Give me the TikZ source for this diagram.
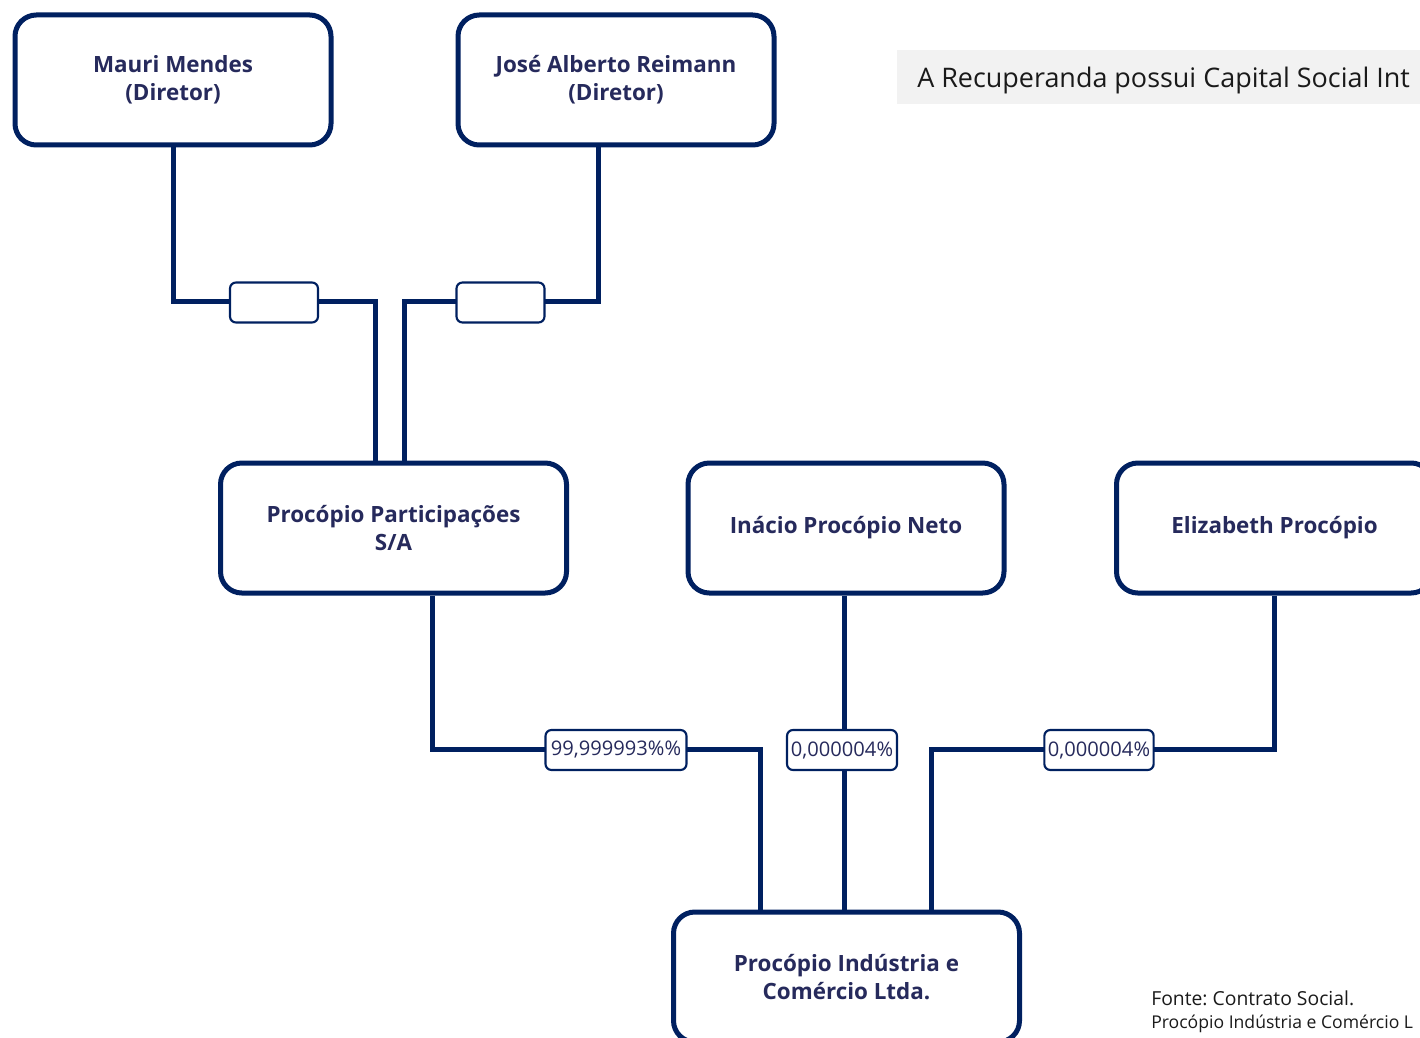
\documentclass[tikz,border=0pt]{standalone}
\usepackage{fontspec}
\setmainfont{Open Sans}
\usetikzlibrary{calc}
\frenchspacing
\definecolor{navy}{HTML}{002060}
\definecolor{txt}{HTML}{262A5C}
\definecolor{hdrbg}{HTML}{F2F2F2}
\definecolor{ink}{HTML}{1A1A1A}
\tikzset{
  ent/.style={draw=navy, line width=3.75pt, rounded corners=16pt, fill=white,
    text=txt, font=\bfseries\fontsize{16.8}{21}\selectfont, align=center,
    inner sep=0pt, minimum width=237pt, minimum height=97.5pt},
  entwide/.style={ent, minimum width=259.5pt},
  conn/.style={draw=navy, line width=3.75pt, line join=miter},
  pct/.style={draw=navy, line width=1.6pt, rounded corners=4.5pt, fill=white,
    text=txt, font=\fontsize{15.1}{17}\selectfont, inner sep=0pt,
    minimum height=30pt},
}
\begin{document}
\begin{tikzpicture}[x=0.75pt,y=-0.75pt]
\useasboundingbox (0,0) rectangle (1420,1038);
\begin{scope}
\clip (0,0) rectangle (1420,1038);
% header
\fill[hdrbg] (897,50) rectangle (1440,104);
\node[anchor=base west, inner sep=0pt, text=ink, font=\fontsize{20.2}{25}\selectfont] (hdr) at (917,88) {A Recuperanda possui Capital Social Int};

% entities
\node[ent] (mauri) at (173,80) {Mauri Mendes\\(Diretor)};
\node[ent] (jose) at (616,80) {José Alberto Reimann\\(Diretor)};
\node[entwide] (part) at (393.5,528) {Procópio Participações\\S/A};
\node[ent] (inacio) at (846,528) {Inácio Procópio Neto};
\node[ent] (eliz) at (1274.5,528) {Elizabeth Procópio};
\node[entwide] (ind) at (846.5,977) {Procópio Indústria e\\Comércio Ltda.};

% turn points
\coordinate (j0) at (598,301);
\coordinate (j1) at (375,301);
\coordinate (j2) at (404,301);
\coordinate (p3) at (432,749);
\coordinate (j3) at (760,749);
\coordinate (p4) at (844,749);
\coordinate (j4) at (931,749);

% connectors
\draw[conn] (mauri.south) |- (j1) -- (j1 |- part.north);
\draw[conn] (j0 |- jose.south) -- (j0) -- (j2) -- (j2 |- part.north);
\draw[conn] (p3 |- part.south) -- (p3) -- (j3) -- (j3 |- ind.north);
\draw[conn] (p4 |- inacio.south) -- (p4 |- ind.north);
\draw[conn] (eliz.south) |- (j4) -- (j4 |- ind.north);

% labels
\node[pct, minimum width=66pt] (l1) at (274,302.5) {};
\node[pct, minimum width=66pt] (l2) at (500.5,302.5) {};
\node[pct, minimum width=105.75pt] (l3) at (616,750) {99,999993\%\%};
\node[pct, minimum width=82.5pt] (l4) at (842,750) {0,000004\%};
\node[pct, minimum width=82pt] (l5) at (1099,750) {0,000004\%};

% footer
\node[anchor=base west, inner sep=0pt, text=ink, font=\fontsize{14.5}{18}\selectfont] (f1) at (1151,1005) {Fonte: Contrato Social.};
\node[anchor=base west, inner sep=0pt, text=ink, font=\fontsize{13.2}{16}\selectfont] (f2) at (1151,1028) {Procópio Indústria e Comércio L};
\end{scope}
\end{tikzpicture}
\end{document}
